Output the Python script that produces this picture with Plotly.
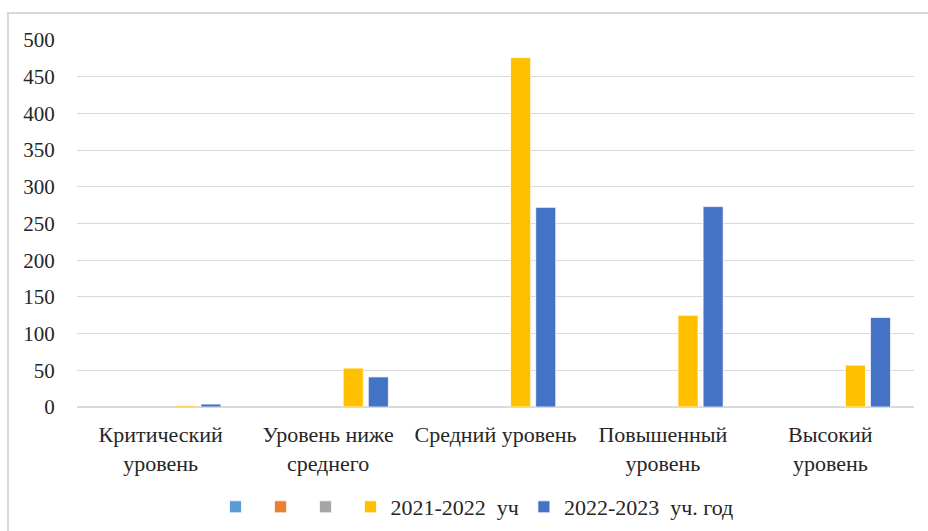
import plotly.graph_objects as go

categories = ["Критический<br>уровень", "Уровень ниже<br>среднего", "Средний уровень",
              "Повышенный<br>уровень", "Высокий<br>уровень"]
series_names = ["", "", "", "2021-2022  уч", "2022-2023  уч. год"]
empty_vals = [None, None, None, None, None]
vals_2021 = [2, 53, 476, 125, 57]
vals_2022 = [4, 41, 272, 273, 122]
series_values = [empty_vals, empty_vals, empty_vals, vals_2021, vals_2022]
colors = ["#5B9BD5", "#ED7D31", "#A5A5A5", "#FFC000", "#4472C4"]
y_ticks = [0, 50, 100, 150, 200, 250, 300, 350, 400, 450, 500]

FONT = "Liberation Serif"

fig = go.Figure()
for name, vals, col in zip(series_names, series_values, colors):
    fig.add_trace(go.Bar(
        x=categories, y=vals, name=name, showlegend=True,
        marker=dict(color=col, line=dict(color="white", width=0.75)),
    ))

L, R, T, B = 77, 14, 40, 124
W, H = 928, 531
pw, ph = W - L - R, H - T - B

fig.update_layout(
    width=W, height=H,
    margin=dict(l=L, r=R, t=T, b=B, autoexpand=False),
    paper_bgcolor="white", plot_bgcolor="white",
    barmode="group", bargap=0.25, bargroupgap=0.2,
    font=dict(family=FONT, size=20, color="#262626"),
    xaxis=dict(showline=False, ticks="", automargin=False, ticklabelstandoff=12,
               tickfont=dict(family=FONT, size=22, color="#262626")),
    yaxis=dict(range=[0, 500], tickvals=y_ticks, showgrid=True, gridcolor="#D9D9D9",
               gridwidth=1, zeroline=True, zerolinecolor="#D9D9D9",
               ticks="outside", ticklen=17, tickcolor="rgba(0,0,0,0)", automargin=False,
               tickfont=dict(family=FONT, size=21, color="#262626")),
    legend=dict(orientation="h", x=(477 - L) / pw, xanchor="center",
                yref="container", y=1 - 507 / H, yanchor="middle",
                font=dict(family=FONT, size=22, color="#262626"), itemwidth=30,
                traceorder="normal"),
    shapes=[dict(type="rect", xref="paper", yref="paper",
                 x0=(8 - L) / pw, x1=(940 - L) / pw,
                 y0=(H - B - 545) / ph, y1=(H - B - 13) / ph,
                 line=dict(color="#D9D9D9", width=2), layer="below")],
)

fig.write_html("out.html", config={"displayModeBar": False},
               post_script="document.body.style.margin='0';")
